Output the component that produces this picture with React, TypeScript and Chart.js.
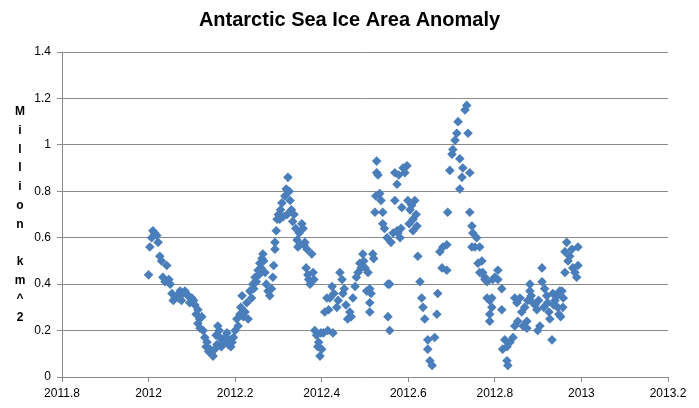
import React, { useEffect, useRef } from "react";
import { Chart, registerables } from "chart.js";

Chart.register(...registerables);

const chartTitle = "Antarctic Sea Ice Area Anomaly";
const yAxisTitleLetters = ["M", "i", "l", "l", "i", "o", "n", "", "k", "m", "^", "2"];
const xTickValues = [2011.8, 2012, 2012.2, 2012.4, 2012.6, 2012.8, 2013, 2013.2];
const yTickValues = [0, 0.2, 0.4, 0.6, 0.8, 1, 1.2, 1.4];

// [decimal year, anomaly (million km^2)]
const anomalyPoints: [number, number][] = [
  [2012.0, 0.44], [2012.003, 0.56], [2012.007, 0.6], [2012.01, 0.63], [2012.014, 0.62],
  [2012.019, 0.61], [2012.022, 0.58], [2012.026, 0.52], [2012.03, 0.5], [2012.033, 0.43],
  [2012.038, 0.41], [2012.042, 0.48], [2012.047, 0.42], [2012.05, 0.4], [2012.054, 0.36],
  [2012.057, 0.33], [2012.061, 0.34], [2012.066, 0.35], [2012.069, 0.34], [2012.073, 0.37],
  [2012.076, 0.33], [2012.079, 0.36], [2012.084, 0.37], [2012.087, 0.36], [2012.091, 0.35],
  [2012.095, 0.32], [2012.1, 0.34], [2012.104, 0.33], [2012.107, 0.31], [2012.11, 0.27],
  [2012.114, 0.29], [2012.114, 0.23], [2012.118, 0.25], [2012.119, 0.21], [2012.123, 0.26],
  [2012.126, 0.2], [2012.13, 0.17], [2012.133, 0.13], [2012.135, 0.15], [2012.139, 0.11],
  [2012.142, 0.12], [2012.145, 0.1], [2012.149, 0.09], [2012.153, 0.12], [2012.156, 0.18],
  [2012.158, 0.14], [2012.16, 0.22], [2012.163, 0.2], [2012.165, 0.17], [2012.168, 0.13],
  [2012.172, 0.15], [2012.176, 0.17], [2012.181, 0.19], [2012.184, 0.14], [2012.188, 0.16],
  [2012.19, 0.13], [2012.193, 0.15], [2012.196, 0.17], [2012.2, 0.2], [2012.204, 0.25],
  [2012.207, 0.22], [2012.211, 0.27], [2012.213, 0.3], [2012.216, 0.35], [2012.219, 0.26],
  [2012.223, 0.28], [2012.227, 0.32], [2012.23, 0.25], [2012.234, 0.37], [2012.238, 0.34],
  [2012.241, 0.4], [2012.243, 0.38], [2012.246, 0.43], [2012.249, 0.41], [2012.253, 0.46],
  [2012.255, 0.44], [2012.257, 0.49], [2012.26, 0.47], [2012.262, 0.51], [2012.264, 0.53],
  [2012.266, 0.5], [2012.269, 0.45], [2012.272, 0.4], [2012.276, 0.37], [2012.28, 0.35],
  [2012.284, 0.38], [2012.287, 0.43], [2012.289, 0.48], [2012.292, 0.55], [2012.292, 0.58],
  [2012.295, 0.63], [2012.297, 0.68], [2012.3, 0.7], [2012.303, 0.68], [2012.305, 0.72],
  [2012.308, 0.75], [2012.311, 0.69], [2012.315, 0.78], [2012.318, 0.81], [2012.32, 0.7],
  [2012.322, 0.86], [2012.325, 0.8], [2012.327, 0.76], [2012.33, 0.72], [2012.333, 0.67],
  [2012.336, 0.7], [2012.34, 0.64], [2012.343, 0.59], [2012.345, 0.56], [2012.348, 0.62],
  [2012.35, 0.57], [2012.354, 0.66], [2012.357, 0.64], [2012.359, 0.57], [2012.361, 0.58],
  [2012.364, 0.47], [2012.366, 0.55], [2012.368, 0.44], [2012.37, 0.42], [2012.373, 0.4],
  [2012.377, 0.53], [2012.38, 0.45], [2012.382, 0.42], [2012.384, 0.2], [2012.388, 0.18],
  [2012.391, 0.13], [2012.393, 0.15], [2012.396, 0.09], [2012.398, 0.19], [2012.4, 0.12],
  [2012.404, 0.19], [2012.407, 0.28], [2012.412, 0.34], [2012.414, 0.2], [2012.416, 0.29],
  [2012.419, 0.34], [2012.424, 0.39], [2012.426, 0.19], [2012.428, 0.36], [2012.435, 0.3],
  [2012.438, 0.33], [2012.442, 0.45], [2012.447, 0.42], [2012.449, 0.36], [2012.452, 0.38],
  [2012.456, 0.31], [2012.46, 0.25], [2012.465, 0.28], [2012.468, 0.26], [2012.472, 0.34],
  [2012.477, 0.39], [2012.48, 0.43], [2012.484, 0.45], [2012.488, 0.49], [2012.491, 0.47],
  [2012.495, 0.53], [2012.497, 0.5], [2012.5, 0.47], [2012.504, 0.37], [2012.507, 0.45],
  [2012.511, 0.38], [2012.511, 0.32], [2012.511, 0.28], [2012.514, 0.36], [2012.518, 0.53],
  [2012.52, 0.51], [2012.523, 0.71], [2012.525, 0.78], [2012.527, 0.93], [2012.527, 0.88],
  [2012.53, 0.87], [2012.534, 0.79], [2012.537, 0.76], [2012.541, 0.71], [2012.541, 0.66],
  [2012.545, 0.64], [2012.551, 0.6], [2012.553, 0.4], [2012.553, 0.26], [2012.557, 0.4],
  [2012.557, 0.2], [2012.56, 0.58], [2012.565, 0.62], [2012.569, 0.88], [2012.569, 0.76],
  [2012.574, 0.83], [2012.574, 0.63], [2012.576, 0.62], [2012.578, 0.87], [2012.581, 0.6],
  [2012.583, 0.64], [2012.585, 0.73], [2012.588, 0.9], [2012.592, 0.88], [2012.597, 0.91],
  [2012.599, 0.76], [2012.602, 0.66], [2012.604, 0.72], [2012.608, 0.74], [2012.611, 0.68],
  [2012.611, 0.63], [2012.615, 0.76], [2012.618, 0.7], [2012.62, 0.65], [2012.622, 0.52],
  [2012.627, 0.41], [2012.631, 0.34], [2012.634, 0.3], [2012.638, 0.25], [2012.645, 0.16],
  [2012.645, 0.12], [2012.65, 0.07], [2012.655, 0.05], [2012.661, 0.17], [2012.666, 0.27],
  [2012.668, 0.36], [2012.673, 0.54], [2012.678, 0.47], [2012.68, 0.56], [2012.689, 0.57],
  [2012.689, 0.46], [2012.691, 0.71], [2012.696, 0.89], [2012.701, 0.96], [2012.703, 0.98],
  [2012.708, 1.02], [2012.712, 1.05], [2012.715, 1.1], [2012.719, 0.81], [2012.719, 0.94],
  [2012.724, 0.86], [2012.726, 0.9], [2012.731, 1.15], [2012.735, 1.17], [2012.738, 1.05],
  [2012.742, 0.88], [2012.742, 0.71], [2012.747, 0.65], [2012.747, 0.56], [2012.749, 0.62],
  [2012.754, 0.56], [2012.758, 0.6], [2012.761, 0.49], [2012.765, 0.56], [2012.765, 0.45],
  [2012.77, 0.5], [2012.772, 0.45], [2012.777, 0.43], [2012.777, 0.42], [2012.782, 0.41],
  [2012.782, 0.34], [2012.788, 0.33], [2012.788, 0.27], [2012.788, 0.24], [2012.793, 0.3],
  [2012.793, 0.34], [2012.795, 0.42], [2012.8, 0.43], [2012.807, 0.46], [2012.807, 0.42],
  [2012.816, 0.38], [2012.816, 0.29], [2012.818, 0.12], [2012.823, 0.16], [2012.828, 0.13],
  [2012.828, 0.07], [2012.83, 0.05], [2012.835, 0.15], [2012.842, 0.17], [2012.846, 0.34],
  [2012.846, 0.22], [2012.851, 0.32], [2012.853, 0.24], [2012.858, 0.34], [2012.862, 0.28],
  [2012.865, 0.22], [2012.869, 0.3], [2012.874, 0.21], [2012.874, 0.24], [2012.876, 0.33],
  [2012.881, 0.4], [2012.881, 0.37], [2012.884, 0.35], [2012.888, 0.32], [2012.893, 0.31],
  [2012.897, 0.29], [2012.899, 0.2], [2012.901, 0.33], [2012.904, 0.22], [2012.909, 0.47],
  [2012.909, 0.41], [2012.913, 0.3], [2012.915, 0.38], [2012.92, 0.35], [2012.922, 0.32],
  [2012.925, 0.28], [2012.927, 0.25], [2012.932, 0.16], [2012.934, 0.36], [2012.936, 0.31],
  [2012.939, 0.33], [2012.943, 0.35], [2012.945, 0.3], [2012.948, 0.27], [2012.95, 0.37],
  [2012.952, 0.26], [2012.955, 0.37], [2012.957, 0.3], [2012.958, 0.34], [2012.962, 0.45],
  [2012.962, 0.54], [2012.966, 0.58], [2012.969, 0.5], [2012.973, 0.52], [2012.978, 0.55],
  [2012.98, 0.47], [2012.985, 0.45], [2012.989, 0.43], [2012.992, 0.56], [2012.992, 0.48],
];

const FONT = "'Liberation Sans', Arial, sans-serif";
const GRID = "#8a8a8a";
const MARKER = "#4a7ebb";

const fmt = (v: number) => String(Math.round(v * 10) / 10);

const textPlugin = {
  id: "excelText",
  afterDraw(chart: any) {
    const ctx = chart.ctx;
    ctx.save();
    ctx.fillStyle = "#000";
    ctx.textAlign = "center";
    ctx.textBaseline = "middle";
    ctx.font = `bold 20px ${FONT}`;
    ctx.fillText(chartTitle, 349.5, 20);
    ctx.font = `bold 12px ${FONT}`;
    yAxisTitleLetters.forEach((ch, i) => {
      if (ch) ctx.fillText(ch, 20, 112 + i * 18.7);
    });
    ctx.restore();
  },
};

export default function App() {
  const ref = useRef<HTMLCanvasElement | null>(null);

  useEffect(() => {
    if (!ref.current) return;
    const chart = new Chart(ref.current, {
      type: "scatter",
      data: {
        datasets: [
          {
            data: anomalyPoints.map(([x, y]) => ({ x, y })),
            pointStyle: "rectRot",
            pointRadius: 4.8,
            pointHoverRadius: 4.8,
            backgroundColor: MARKER,
            borderColor: MARKER,
            borderWidth: 0,
          },
        ],
      },
      options: {
        responsive: false,
        animation: false,
        events: [],
        layout: { padding: { top: 52, right: 31, bottom: 0, left: 0 } },
        plugins: {
          legend: { display: false },
          title: { display: false },
          tooltip: { enabled: false },
        },
        scales: {
          x: {
            type: "linear",
            min: 2011.8,
            max: 2013.2,
            afterBuildTicks: (scale: any) => {
              scale.ticks = xTickValues.map((value) => ({ value }));
            },
            afterFit: (scale: any) => {
              scale.height = 31;
            },
            ticks: {
              callback: (v: any) => fmt(Number(v)),
              color: "#000",
              font: { family: FONT, size: 12 },
              padding: 4,
              maxRotation: 0,
              autoSkip: false,
            },
            grid: {
              display: true,
              drawOnChartArea: false,
              drawTicks: true,
              tickLength: 5,
              color: GRID,
            },
            border: { display: true, color: GRID, width: 1 },
          },
          y: {
            min: 0,
            max: 1.4,
            afterBuildTicks: (scale: any) => {
              scale.ticks = yTickValues.map((value) => ({ value }));
            },
            afterFit: (scale: any) => {
              scale.width = 62;
            },
            ticks: {
              callback: (v: any) => fmt(Number(v)),
              color: "#000",
              font: { family: FONT, size: 12 },
              padding: 6,
              autoSkip: false,
            },
            grid: {
              display: true,
              drawOnChartArea: true,
              drawTicks: true,
              tickLength: 5,
              color: GRID,
            },
            border: { display: true, color: GRID, width: 1 },
          },
        },
      },
      plugins: [textPlugin],
    });
    return () => chart.destroy();
  }, []);

  return (
    <div style={{ position: "fixed", left: 0, top: 0, width: 699, height: 408, background: "#fff" }}>
      <canvas ref={ref} width={699} height={408} style={{ display: "block" }} />
    </div>
  );
}
